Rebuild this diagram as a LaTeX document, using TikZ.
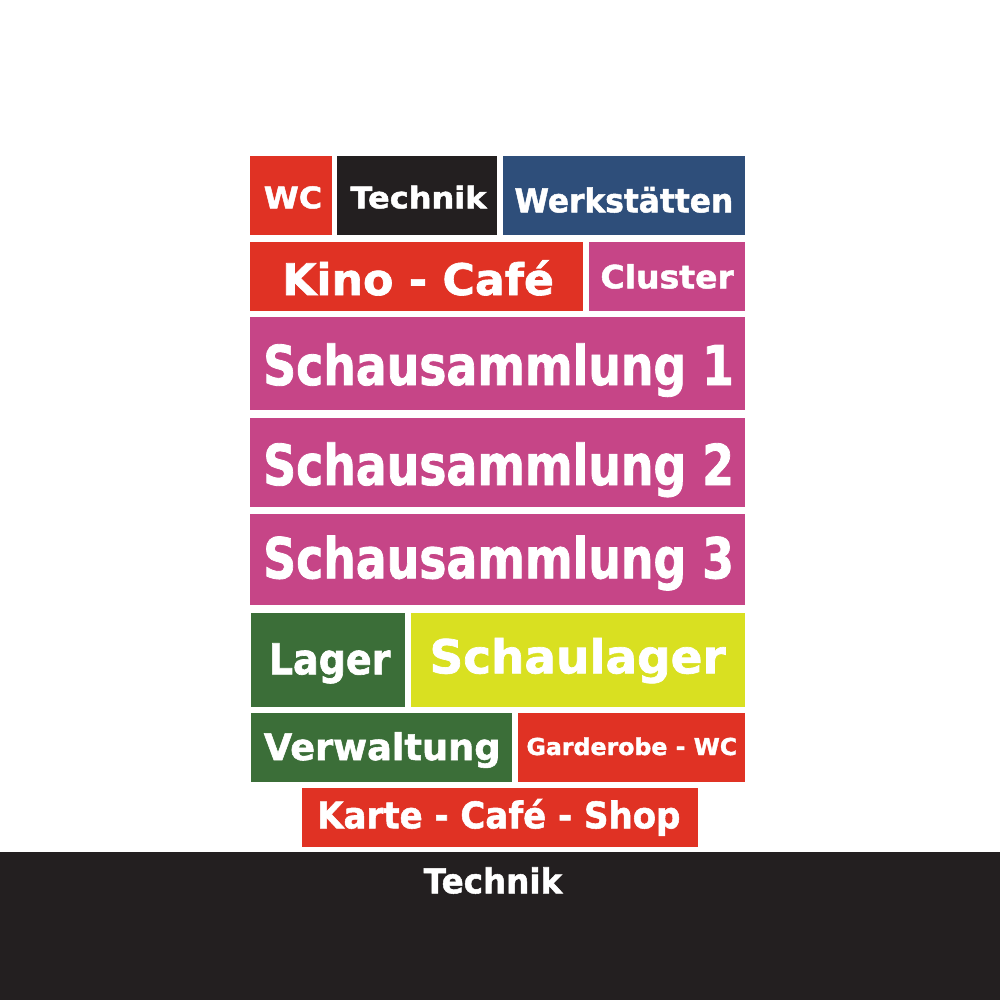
\documentclass[tikz,border=0pt]{standalone}
\usepackage{fontspec}
\usepackage{graphicx}
\setmainfont[BoldFeatures={FakeBold=1.5}]{DejaVu Sans}

\definecolor{roomred}{RGB}{224,50,36}
\definecolor{roomblack}{RGB}{35,31,32}
\definecolor{roomblue}{RGB}{46,78,122}
\definecolor{roommagenta}{RGB}{198,69,135}
\definecolor{roomgreen}{RGB}{59,110,56}
\definecolor{roomyellow}{RGB}{217,224,33}

% width and cap height in px (1px = 0.75pt)
\newcommand{\roomlabel}[3]{\resizebox{\dimexpr #1pt*3/4\relax}{\dimexpr #2pt*3/4\relax}{\smash{#3}\vphantom{X}}}

\tikzset{every picture/.style={line width=0.75pt}}
\tikzset{
	room label/.style={anchor=base west, inner sep=0pt, text=white, font=\bfseries}}

\begin{document}
\begin{tikzpicture}[x=0.75pt,y=0.75pt,yscale=-1,xscale=1]
\useasboundingbox (0,0) rectangle (1000,1000);
\fill [white] (0,0) rectangle (1000,1000);

%Shape: Rectangle [id:wc] 
\fill [roomred] (250,156) rectangle (332,235);
%Shape: Rectangle [id:technik] 
\fill [roomblack] (337,156) rectangle (497,235);
%Shape: Rectangle [id:werkstaetten] 
\fill [roomblue] (503,156) rectangle (745,235);
%Shape: Rectangle [id:kino] 
\fill [roomred] (250,242) rectangle (583,311);
%Shape: Rectangle [id:cluster] 
\fill [roommagenta] (589,242) rectangle (745,311);
%Shape: Rectangle [id:sammlung1] 
\fill [roommagenta] (250,317) rectangle (745,410);
%Shape: Rectangle [id:sammlung2] 
\fill [roommagenta] (250,418) rectangle (745,507);
%Shape: Rectangle [id:sammlung3] 
\fill [roommagenta] (250,514) rectangle (745,605);
%Shape: Rectangle [id:lager] 
\fill [roomgreen] (251,613) rectangle (405,707);
%Shape: Rectangle [id:schaulager] 
\fill [roomyellow] (411,613) rectangle (745,707);
%Shape: Rectangle [id:verwaltung] 
\fill [roomgreen] (251,713) rectangle (512,782);
%Shape: Rectangle [id:garderobe] 
\fill [roomred] (518,713) rectangle (745,782);
%Shape: Rectangle [id:karte] 
\fill [roomred] (302,788) rectangle (698,847);
%Shape: Rectangle [id:technikband] 
\fill [roomblack] (0,852) rectangle (1000,1000);

% Text Node
\node (wcText) [room label] at (263.3,208.3) {\roomlabel{58.3}{21.7}{WC}};
% Text Node
\node (technikText) [room label] at (350,208.3) {\roomlabel{136}{21.7}{Technik}};
% Text Node
\node (werkstaettenText) [room label] at (514,212.3) {\roomlabel{218.7}{24}{Werkstätten}};
% Text Node
\node (kinoText) [room label] at (281.7,295) {\roomlabel{271.7}{31.7}{Kino - Café}};
% Text Node
\node (clusterText) [room label] at (600,288.3) {\roomlabel{133.3}{23.3}{Cluster}};
% Text Node
\node (sammlungOneText) [room label] at (262.7,385) {\roomlabel{470.7}{40}{Schausammlung 1}};
% Text Node
\node (sammlungTwoText) [room label] at (262.7,485) {\roomlabel{470.7}{41}{Schausammlung 2}};
% Text Node
\node (sammlungThreeText) [room label] at (262.7,578.3) {\roomlabel{470.7}{41}{Schausammlung 3}};
% Text Node
\node (lagerText) [room label] at (268.3,674.3) {\roomlabel{121.7}{31}{Lager}};
% Text Node
\node (schaulagerText) [room label] at (429,673.3) {\roomlabel{296}{34}{Schaulager}};
% Text Node
\node (verwaltungText) [room label] at (263.3,760) {\roomlabel{236.7}{26.7}{Verwaltung}};
% Text Node
\node (garderobeText) [room label] at (526,755) {\roomlabel{210.7}{17}{Garderobe - WC}};
% Text Node
\node (karteText) [room label] at (316.7,828.3) {\roomlabel{363.3}{26.7}{Karte - Café - Shop}};
% Text Node
\node (technikBandText) [room label] at (423.3,893.3) {\roomlabel{138.3}{25}{Technik}};

\end{tikzpicture}
\end{document}
